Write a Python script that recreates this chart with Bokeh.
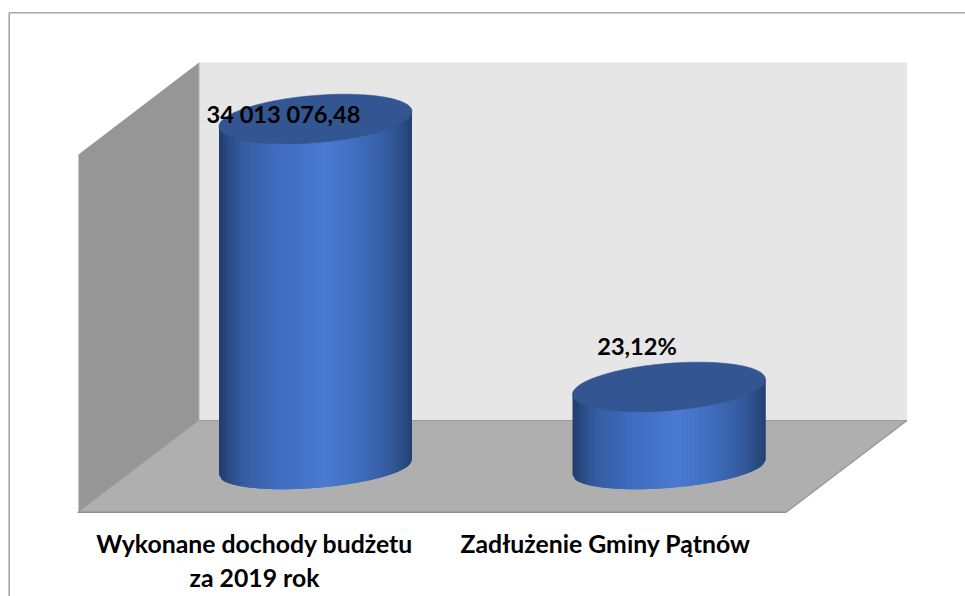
import numpy as np
from bokeh.plotting import figure
from bokeh.models import ColumnDataSource
from bokeh.core.properties import value
from bokeh.embed import file_html
from bokeh.resources import INLINE

# ---- data
categories = ["Wykonane dochody budżetu\nza 2019 rok", "Zadłużenie Gminy Pątnów"]
category_pos = [0, 1]
bar_values = [100.0, 23.12]          # column heights, % of the tallest
value_labels = ["34 013 076,48", "23,12%"]

# ---- layout of the picture, in page pixels
W, H = 965, 596
PAGE_X, PAGE_Y = 0, 0
X0_PX, X_STEP_PX = 315.0, 353.5      # first category centre, category spacing
Y0_PX, Y_STEP_PX = 467.0, 3.485      # baseline, pixels per value unit
HALF_W = 96.5
SKEW = 7.5
B_TOP, B_BOT = 23.6, 20.4

x_range = ((PAGE_X - X0_PX) / X_STEP_PX, (PAGE_X + W - X0_PX) / X_STEP_PX)
y_range = ((Y0_PX - (PAGE_Y + H)) / Y_STEP_PX, (Y0_PX - PAGE_Y) / Y_STEP_PX)


def dx(px):
    return (np.asarray(px, dtype=float) - X0_PX) / X_STEP_PX


def dy(py):
    return (Y0_PX - np.asarray(py, dtype=float)) / Y_STEP_PX


p = figure(width=W, height=H, x_range=x_range, y_range=y_range, output_backend="svg",
           toolbar_location=None, min_border=0, outline_line_color=None,
           background_fill_color="white", border_fill_color="white")
p.axis.visible = False
p.grid.visible = False

# chart-area border (open to the right and bottom as it leaves the page)
p.line(dx([8.7, 8.7]), dy([600, 12.3]), line_color="#a6a6a6", line_width=1.6)
p.line(dx([8.7, 970]), dy([12.3, 12.3]), line_color="#a6a6a6", line_width=1.6)

# 3D box: back wall, side wall, floor
p.patch(dx([198.5, 906.5, 906.5, 198.5]), dy([62, 62, 420, 420]), fill_color="#e6e6e6", line_color=None)
p.patch(dx([78, 198.5, 198.5, 78]), dy([154, 62, 420, 511.5]), fill_color="#969696", line_color=None)
p.patch(dx([78, 198.5, 906.5, 786]), dy([511.5, 420, 420, 511.5]), fill_color="#afafaf", line_color=None)
p.line(dx([198.5, 198.5]), dy([62, 420]), line_color="#b0b0b0", line_width=1)
p.line(dx([198.5, 906.5]), dy([420, 420]), line_color="#9a9a9a", line_width=1.2)
p.line(dx([78, 198.5]), dy([511.5, 420]), line_color="#a0a0a0", line_width=1)
p.line(dx([786, 906.5]), dy([511.5, 420]), line_color="#949494", line_width=1.2)
p.line(dx([77, 786]), dy([511.8, 511.8]), line_color="#8f8f8f", line_width=1.6)

# cylinder shading across its width
stops_t = [0.0, 0.05, 0.12, 0.3, 0.55, 0.72, 0.88, 0.96, 1.0]
stops_c = [(0x22, 0x3d, 0x6b), (0x2a, 0x4b, 0x85), (0x35, 0x5c, 0xa0), (0x3f, 0x6c, 0xc0),
           (0x4a, 0x7a, 0xd1), (0x40, 0x6d, 0xbd), (0x34, 0x5b, 0x9e), (0x2a, 0x4b, 0x82), (0x24, 0x3f, 0x70)]


def shade(t):
    return "#%02x%02x%02x" % tuple(int(round(np.interp(t, stops_t, [c[i] for c in stops_c]))) for i in range(3))


N = 96
for pos, val in zip(category_pos, bar_values):
    cx = X0_PX + pos * X_STEP_PX
    top_cy = Y0_PX - val * Y_STEP_PX
    edges = np.linspace(-1, 1, N + 1)
    xs, ys, cols = [], [], []
    for i in range(N):
        # each strip runs on under the next one, so that no seam shows
        a, b = edges[i], edges[min(i + 2, N)]
        low_a = Y0_PX - SKEW * a + B_BOT * np.sqrt(1 - a * a)
        low_b = Y0_PX - SKEW * b + B_BOT * np.sqrt(1 - b * b)
        up_a = top_cy - SKEW * a
        up_b = top_cy - SKEW * b
        xs.append(dx([cx + a * HALF_W, cx + b * HALF_W, cx + b * HALF_W, cx + a * HALF_W]))
        ys.append(dy([up_a, up_b, low_b, low_a]))
        cols.append(shade((i + 0.5) / N))
    p.patches(xs, ys, fill_color=cols, line_color=None)
    # top cap
    t = np.linspace(0, 2 * np.pi, 181)
    ex = cx + HALF_W * np.cos(t)
    ey = top_cy - SKEW * np.cos(t) - B_TOP * np.sin(t)
    p.patch(dx(ex), dy(ey), fill_color="#335591", line_color="#335591", line_width=0.6)

# value labels
label_dx_px = [-32, -32]
label_dy_px = [5.5, 40.6]
p.text(x=[c + d / X_STEP_PX for c, d in zip(category_pos, label_dx_px)],
       y=[v + d / Y_STEP_PX for v, d in zip(bar_values, label_dy_px)],
       text=value_labels, text_align="center", text_baseline="middle",
       text_font=value("Lato"), text_font_style="bold", text_font_size="23.6px", text_color="black")

# category labels
cat_src = ColumnDataSource(dict(x=[dx(254.0), dx(605.0)], y=[dy(528.0), dy(528.0)], text=categories))
p.text(x="x", y="y", text="text", source=cat_src, text_align="center", text_baseline="top",
       text_font=value("Lato"), text_font_style="bold", text_font_size="24.8px",
       text_color="black", text_line_height=1.2)

open("out.html", "w").write(file_html(p, INLINE))
